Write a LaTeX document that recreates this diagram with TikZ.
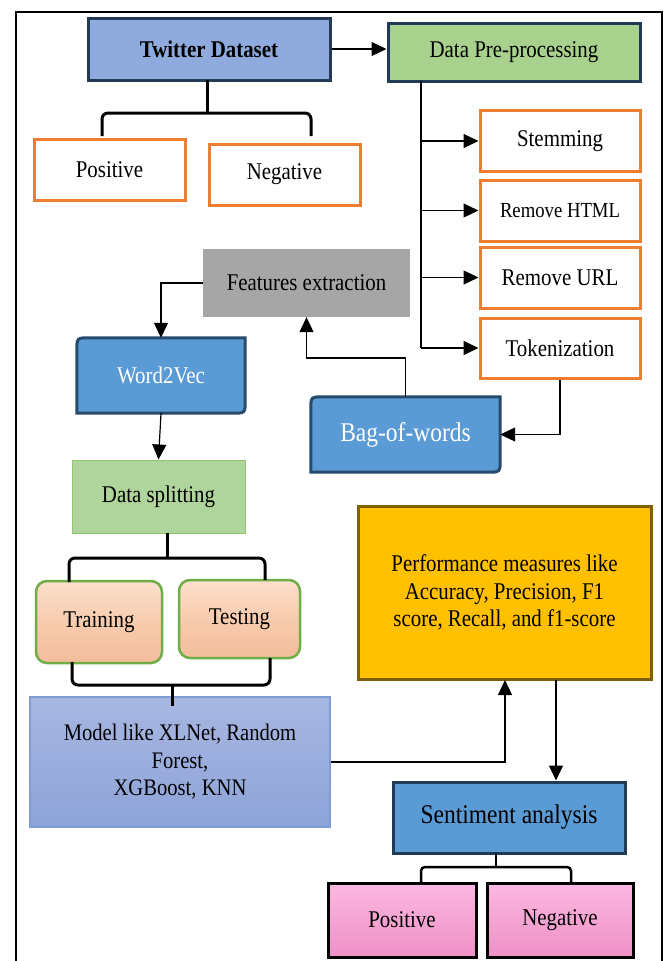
\documentclass[tikz,border=0pt]{standalone}
\usepackage{fontspec}
\setmainfont{Liberation Serif}[FakeStretch=0.87]
\usetikzlibrary{arrows.meta,calc,backgrounds}
\definecolor{twblue}{HTML}{8FAADC}
\definecolor{navy}{HTML}{213A56}
\definecolor{pgreen}{HTML}{A9D18E}
\definecolor{dsgreen}{HTML}{AFD59C}
\definecolor{dsborder}{HTML}{8DC66E}
\definecolor{orangeb}{HTML}{ED7D31}
\definecolor{feGray}{HTML}{A6A6A6}
\definecolor{midblue}{HTML}{5B9BD5}
\definecolor{darkblue}{HTML}{264B6C}
\definecolor{peach}{HTML}{F8CBAD}
\definecolor{peachTop}{HTML}{FCE0CD}
\definecolor{peachBot}{HTML}{F2BD9C}
\definecolor{trgreen}{HTML}{70AD47}
\definecolor{modelTop}{HTML}{A8B7E2}
\definecolor{modelBot}{HTML}{8DA3D8}
\definecolor{modelBorder}{HTML}{7E9CD6}
\definecolor{gold}{HTML}{FFC000}
\definecolor{goldBorder}{HTML}{7F6000}
\definecolor{pink}{HTML}{FA9FD4}
\definecolor{pinkTop}{HTML}{FCB8E0}
\definecolor{pinkBot}{HTML}{EE90C6}
\tikzset{
  every node/.style={font=\fontsize{24}{27.5}\selectfont, inner sep=0pt, align=center},
  orangebox/.style={draw=orangeb, line width=3pt, fill=white},
  darkbox/.style={draw=navy, line width=3pt},
  arr/.style={line width=1.2pt, -{Triangle[length=15pt,width=14pt]}},
  plain/.style={line width=1.2pt},
  bracel/.style={line width=3pt, rounded corners=6pt},
}
\begin{document}
\begin{tikzpicture}[x=1pt,y=-1pt]
\useasboundingbox (0,0) rectangle (669,961);
% frame
\draw[line width=1.5pt] (16,975) -- (16,12) -- (662,12) -- (662,975);

% top row
\node[darkbox, fill=twblue, minimum width=242pt, minimum height=62pt, font=\fontsize{24}{27}\selectfont\bfseries] (tw) at (209,49) {Twitter Dataset};
\node[darkbox, fill=pgreen, minimum width=252pt, minimum height=58pt] (dp) at (514,52) {Data Pre-processing};
\draw[arr] (tw.east) -- (tw.east -| dp.west);

% positive/negative top
\node[orangebox, minimum width=151pt, minimum height=61pt] (pos1) at (109.5,169.5) {Positive};
\node[orangebox, minimum width=151pt, minimum height=61pt] (neg1) at (284.5,174.5) {Negative};
\coordinate (b1c) at (207,80);
\coordinate (b1l) at (102,136);
\coordinate (b1r) at (311,136);
\draw[bracel] (b1l) |- (207,113) -| (b1r);
\draw[line width=3pt] (b1c) -- (b1c |- 0,113);

% pre-processing steps
\node[orangebox, minimum width=160pt, minimum height=61pt] (stem) at (560,141) {Stemming};
\node[orangebox, minimum width=160pt, minimum height=61pt, font=\fontsize{21.5}{24}\selectfont] (html) at (560,210.5) {Remove HTML};
\node[orangebox, minimum width=160pt, minimum height=61pt] (url) at (560,277.5) {Remove URL};
\node[orangebox, minimum width=160pt, minimum height=60pt] (tok) at (560,348) {Tokenization};
\coordinate (dpl) at (421,81);
\draw[plain] (dpl) -- (dpl |- tok.west);
\draw[arr] (dpl |- stem.west) -- (stem.west);
\draw[arr] (dpl |- html.west) -- (html.west);
\draw[arr] (dpl |- url.west) -- (url.west);
\draw[arr] (dpl |- tok.west) -- (tok.west);

% features extraction
\node[fill=feGray, minimum width=207pt, minimum height=68pt] (fe) at (306.5,283) {Features extraction};

% word2vec and bag of words
\node[minimum width=168pt, minimum height=75pt, text=white] (w2v) at (161,375.5) {Word2Vec};
\node[minimum width=189pt, minimum height=75pt, text=white, font=\fontsize{27}{30}\selectfont] (bow) at (405.5,434.5) {Bag-of-words};
\begin{pgfonlayer}{background}
\foreach \n in {w2v,bow}{
  \path[fill=midblue, draw=darkblue, line width=3pt]
    (\n.south west) -- ($(\n.north west)+(0,13)$) .. controls (\n.north west) .. ($(\n.north west)+(13,0)$)
    -- (\n.north east) -- ($(\n.south east)+(0,-13)$) .. controls (\n.south east) .. ($(\n.south east)+(-13,0)$) -- cycle;
}
\end{pgfonlayer}
\draw[arr] (fe.west) -| (w2v.north);
\draw[arr] (bow.north) -- (405.5,358) -| (fe.south);
\draw[arr] (tok.south) |- (bow.east);

% data splitting
\node[fill=dsgreen, draw=dsborder, line width=1pt, minimum width=173pt, minimum height=73pt] (ds) at (158.5,496.5) {Data splitting};
\draw[arr] (w2v.south) -- (ds.north);

% training / testing
\node[rounded corners=11pt, draw=trgreen, line width=2.5pt, top color=peachTop, bottom color=peachBot, middle color=peach, minimum width=126pt, minimum height=82pt] (tr) at (99,622) {Training};
\node[rounded corners=11pt, draw=trgreen, line width=2.5pt, top color=peachTop, bottom color=peachBot, middle color=peach, minimum width=121pt, minimum height=78pt] (te) at (239.5,619) {Testing};
\coordinate (b2c) at (167,533);
\coordinate (b2l) at (69,582);
\coordinate (b2r) at (265,580);
\draw[bracel] (b2l) |- (167,558) -| (b2r);
\draw[line width=3pt] (b2c) -- (b2c |- 0,558);

% model
\node[top color=modelTop, bottom color=modelBot, draw=modelBorder, line width=1.5pt, minimum width=300pt, minimum height=130pt, font=\fontsize{23.7}{27.5}\selectfont] (model) at (180,762) {Model like XLNet, Random\\Forest,\\XGBoost, KNN};
\coordinate (b3c) at (172,706);
\coordinate (b3l) at (72,662);
\coordinate (b3r) at (270,658);
\draw[bracel] (b3l) |- (172,685) -| (b3r);
\draw[line width=3pt] (b3c |- 0,685) -- (b3c);

% performance
\node[fill=gold, draw=goldBorder, line width=3pt, minimum width=293pt, minimum height=173pt, font=\fontsize{24}{27.5}\selectfont] (perf) at (504.5,592.5) {Performance measures like\\Accuracy, Precision, F1\\score, Recall, and f1-score};
\coordinate (pa) at (505,680);
\coordinate (pb) at (556,680);
\draw[arr] (model.east) -| (pa);

% sentiment analysis
\node[darkbox, fill=midblue, minimum width=232pt, minimum height=71pt, font=\fontsize{27}{30}\selectfont] (sa) at (509,817.5) {Sentiment analysis};
\draw[arr] (pb) -- (pb |- sa.north);

% pink outputs
\node[draw=black, line width=3pt, top color=pinkTop, middle color=pink, bottom color=pinkBot, minimum width=148pt, minimum height=74pt] (pos2) at (402,920) {Positive};
\node[draw=black, line width=3pt, top color=pinkTop, middle color=pink, bottom color=pinkBot, minimum width=146pt, minimum height=74pt] (neg2) at (560,920) {Negative};
\coordinate (b4c) at (496,853);
\coordinate (b4l) at (421,883);
\coordinate (b4r) at (571,883);
\draw[line width=2.5pt, rounded corners=4pt] (b4l) |- (496,867) -| (b4r);
\draw[line width=2.5pt] (b4c) -- (b4c |- 0,867);
\end{tikzpicture}
\end{document}
